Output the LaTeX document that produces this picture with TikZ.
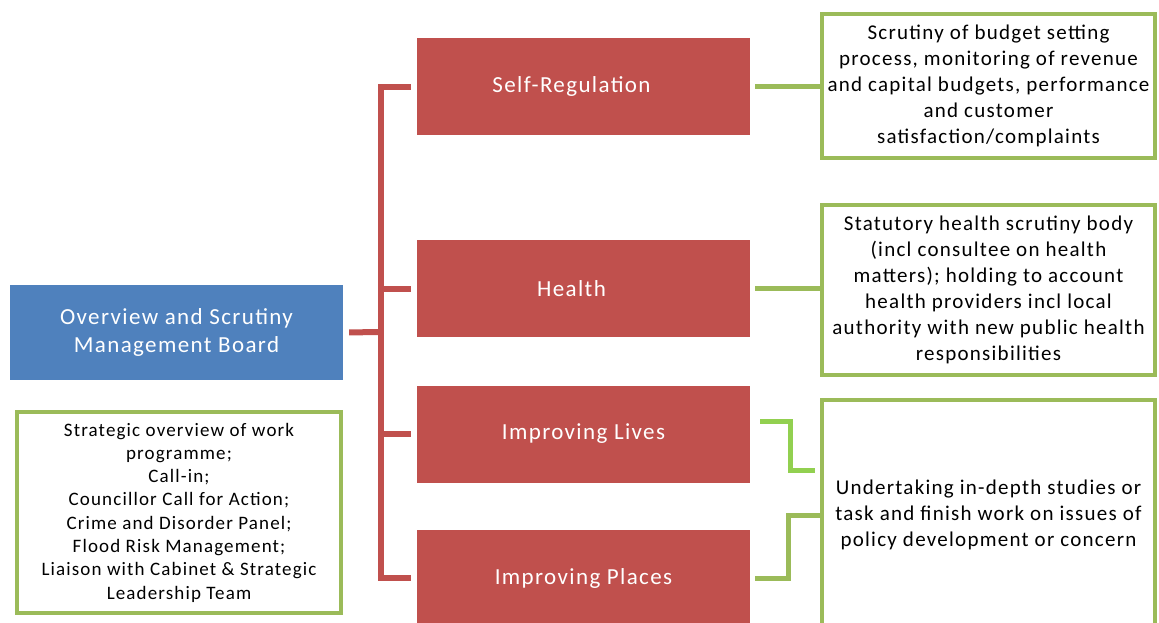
\documentclass[tikz,border=0pt]{standalone}
\usepackage{fontspec}
\setmainfont{Carlito}[LetterSpace=6]
\usetikzlibrary{calc}

\definecolor{boardblue}{HTML}{4F81BD}
\definecolor{panelred}{HTML}{C0504D}
\definecolor{remitgreen}{HTML}{9BBB59}
\definecolor{brightgreen}{HTML}{92D050}

\tikzset{
  boardbox/.style={fill=boardblue, text=white, minimum width=333pt, minimum height=95pt,
    align=center, font=\fontsize{23}{28}\selectfont, inner sep=0pt},
  panelbox/.style={fill=panelred, text=white, minimum width=333pt, minimum height=97pt,
    align=center, font=\fontsize{23}{28}\selectfont, inner sep=0pt},
  remitbox/.style={draw=remitgreen, line width=4pt, fill=white, align=center,
    font=\fontsize{21}{26}\selectfont, inner sep=0pt},
  link/.style={draw=panelred, line width=6pt},
  glink/.style={draw=remitgreen, line width=5pt}
}

\begin{document}
\begin{tikzpicture}[x=1pt,y=-1pt]
\useasboundingbox (0,0) rectangle (1159,622);
\clip (0,0) rectangle (1159,622);

% board and the panels under it
\node [boardbox] (board) at (176.5,332.5) {Overview and Scrutiny\\Management Board};
\node [panelbox] (selfreg) at (583.5,86.5) {Self-Regulation\hspace*{24pt}};
\node [panelbox] (health) at (583.5,288.5) {Health\hspace*{24pt}};
\node [panelbox] (lives) at (583.5,434) {Improving Lives};
\node [panelbox] (places) at (583.5,578) {Improving Places};

% remits
\node [remitbox, minimum width=333pt, minimum height=144pt] (budget) at (988.5,86)
  {Scrutiny of budget setting\\process, monitoring of revenue\\and capital budgets, performance\\and customer\\satisfaction/complaints};
\node [remitbox, minimum width=333pt, minimum height=170pt] (statutory) at (988.5,290)
  {Statutory health scrutiny body\\(incl consultee on health\\matters); holding to account\\health providers incl local\\authority with new public health\\responsibilities};
\node [remitbox, minimum width=333pt, minimum height=230pt] (studies) at (988.5,515)
  {Undertaking in-depth studies or\\task and finish work on issues of\\policy development or concern};
\node [remitbox, minimum width=324pt, minimum height=201pt, font=\fontsize{19}{23.3}\selectfont] (strategic) at (179,512.5)
  {Strategic overview of work\\programme;\\Call-in;\\Councillor Call for Action;\\Crime and Disorder Panel;\\Flood Risk Management;\\Liaison with Cabinet \& Strategic\\Leadership Team};

% red tree
\coordinate (jn) at (381,332);
\draw [link, shorten <=6pt] (board.east) -- (jn);
\draw [link, shorten <=6pt, shorten >=6pt] (selfreg.west) -| (jn |- places.west) -- (places.west);
\foreach \p in {health, lives} \draw [link, shorten >=6pt] (jn |- \p.west) -- (\p.west);

% green links
\draw [glink, shorten <=5pt] (selfreg.east) -- (selfreg.east -| budget.west);
\draw [glink, shorten <=5pt] (health.east) -- (health.east -| statutory.west);
\draw [glink, draw=brightgreen] ($(lives.east)+(10,-13)$) -- ++(30,0) |- ($(studies.west)+(-5,-45)$);
\draw [glink, shorten <=5pt] (places.east) -- ++(38,0) |- (studies.west);

\end{tikzpicture}
\end{document}
